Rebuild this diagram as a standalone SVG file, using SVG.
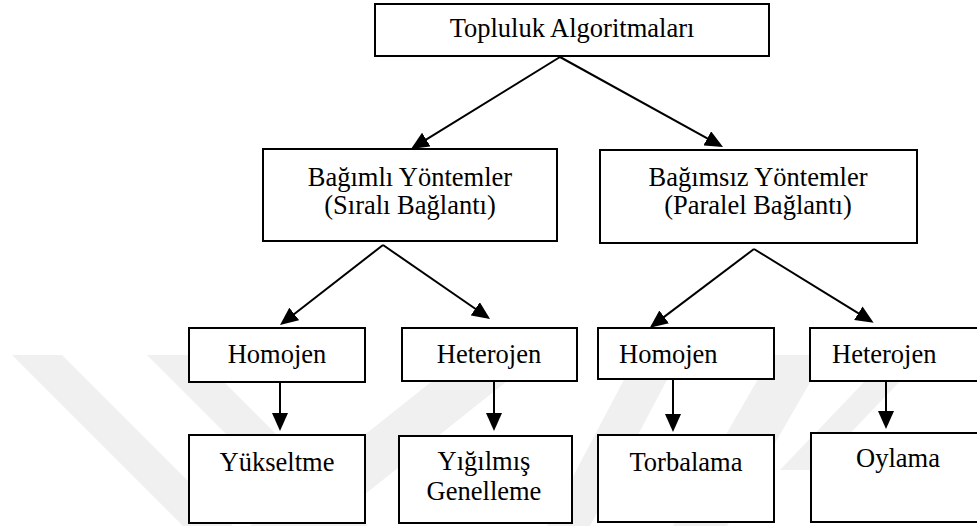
<svg xmlns="http://www.w3.org/2000/svg" width="977" height="526" viewBox="0 0 977 526">
<style>
.box{fill:#fff;stroke:#000;stroke-width:2}
.lbl{font-family:"Liberation Serif","Times New Roman",serif;font-size:26.5px;fill:#000}
.c{text-anchor:middle}
.edge{stroke:#000;stroke-width:2;fill:none;marker-end:url(#ah)}
.wm{fill:#f0f0f0}
</style>
<defs>
<marker id="ah" markerUnits="userSpaceOnUse" markerWidth="18" markerHeight="16" refX="15" refY="8" orient="auto">
<path d="M0,0 L18,8 L0,16 z" fill="#000"/>
</marker>
</defs>
<rect width="977" height="526" fill="#fff"/>
<g id="watermark">
<polygon class="wm" points="12,355 62,355 233,526 183,526"/>
<polygon class="wm" points="147,355 197,355 368,526 318,526"/>
<polygon class="wm" points="250,526 325,526 540,355 465,355"/>
<polygon class="wm" points="547,526 590,526 680,355 637,355"/>
<polygon class="wm" points="673,526 727,526 826,355 772,355"/>
<polygon class="wm" points="780,470 815,470 925,355 890,355"/>
</g>
<g id="connectors">
<line class="edge" x1="560" y1="57" x2="413.5" y2="147.4"/>
<line class="edge" x1="560" y1="57" x2="720.4" y2="145.6"/>
<line class="edge" x1="383" y1="245" x2="282.4" y2="323.2"/>
<line class="edge" x1="383" y1="245" x2="487.6" y2="317.3"/>
<line class="edge" x1="754" y1="249" x2="652.2" y2="325.9"/>
<line class="edge" x1="754" y1="249" x2="871.1" y2="321.1"/>
<line class="edge" x1="280" y1="378" x2="280" y2="428"/>
<line class="edge" x1="494" y1="378" x2="494" y2="428"/>
<line class="edge" x1="673" y1="379" x2="673" y2="429"/>
<line class="edge" x1="886" y1="378" x2="886" y2="426"/>
</g>
<g id="n_topluluk">
<rect class="box" x="375" y="4" width="394" height="52"/>
<text class="lbl c" x="572" y="37">Topluluk Algoritmaları</text>
</g>
<g id="n_bagimli">
<rect class="box" x="263" y="149" width="294" height="92"/>
<text class="lbl c" x="410" y="186">Bağımlı Yöntemler</text>
<text class="lbl c" x="410" y="214">(Sıralı Bağlantı)</text>
</g>
<g id="n_bagimsiz">
<rect class="box" x="600" y="150" width="317" height="93"/>
<text class="lbl c" x="758" y="186">Bağımsız Yöntemler</text>
<text class="lbl c" x="758" y="214">(Paralel Bağlantı)</text>
</g>
<g id="n_homojen1">
<rect class="box" x="189" y="328" width="176" height="54"/>
<text class="lbl c" x="277" y="363">Homojen</text>
</g>
<g id="n_heterojen1">
<rect class="box" x="402" y="328" width="175" height="53"/>
<text class="lbl c" x="489" y="363">Heterojen</text>
</g>
<g id="n_homojen2">
<rect class="box" x="598" y="328" width="176" height="51"/>
<text class="lbl" x="619" y="363">Homojen</text>
</g>
<g id="n_heterojen2">
<rect class="box" x="810" y="328" width="180" height="53"/>
<text class="lbl" x="832" y="363">Heterojen</text>
</g>
<g id="n_yukseltme">
<rect class="box" x="189" y="435" width="176" height="88"/>
<text class="lbl c" x="277" y="471">Yükseltme</text>
</g>
<g id="n_yigilmis">
<rect class="box" x="399" y="436" width="173" height="87"/>
<text class="lbl c" x="484" y="470">Yığılmış</text>
<text class="lbl c" x="484" y="500">Genelleme</text>
</g>
<g id="n_torbalama">
<rect class="box" x="598" y="435" width="176" height="87"/>
<text class="lbl c" x="686" y="471">Torbalama</text>
</g>
<g id="n_oylama">
<rect class="box" x="811" y="433" width="180" height="89"/>
<text class="lbl c" x="898" y="467">Oylama</text>
</g>
</svg>
